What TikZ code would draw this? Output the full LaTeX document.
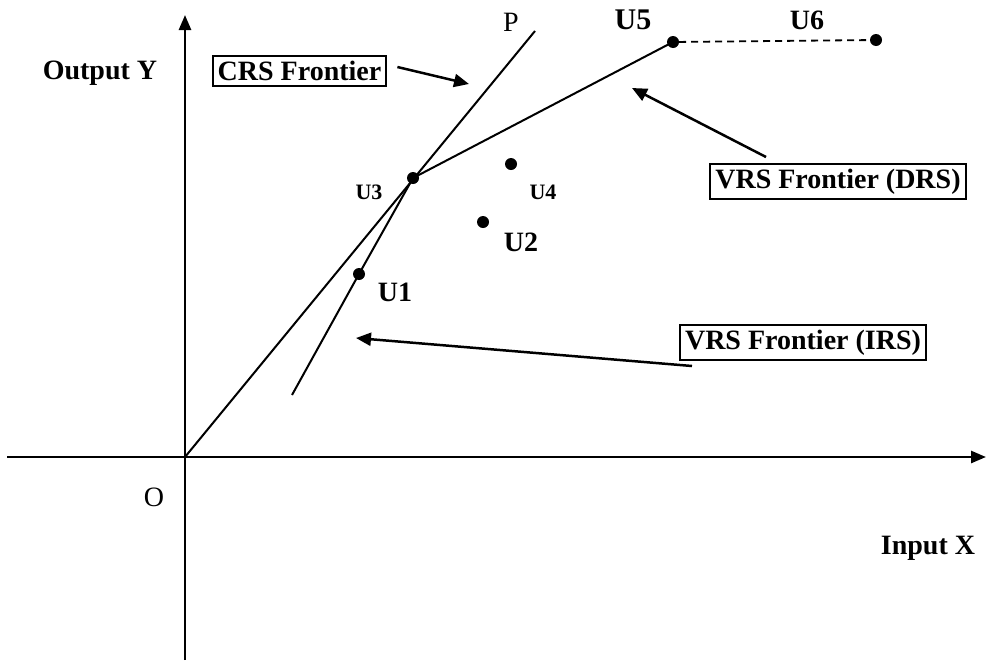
\documentclass[tikz,border=0pt]{standalone}
\usepackage{fontspec}
\setmainfont{Liberation Serif}
\usetikzlibrary{arrows.meta}
\begin{document}
\begin{tikzpicture}[x=1pt,y=-1pt,
  axis/.style={line width=2.6pt,-{Triangle[length=15pt,width=12pt]}},
  frontier/.style={line width=2pt},
  pointer/.style={line width=2.5pt,-{Triangle[length=15pt,width=13pt]}},
  dot/.style={circle,fill=black,inner sep=0pt,minimum size=12pt},
  lbl/.style={font=\fontsize{28}{30}\selectfont\bfseries,inner sep=0pt},
  small/.style={font=\fontsize{22}{24}\selectfont\bfseries,inner sep=0pt},
  plain/.style={font=\fontsize{28}{30}\selectfont,inner sep=0pt},
  boxed/.style={draw,line width=2.2pt,inner xsep=5pt,inner ysep=5pt,
    font=\fontsize{28}{30}\selectfont\bfseries}]
\useasboundingbox (0,0) rectangle (986,662);

% axes
\coordinate (ybot) at (185,660);
\coordinate (ytop) at (185,15);
\coordinate (xl) at (7,457);
\coordinate (xr) at (986,457);
\coordinate (o) at (185,457);
\draw[axis] (ybot) -- (ytop);
\draw[axis] (xl) -- (xr);
\node[plain] (olbl) at (154,497) {O};
\node[lbl] (ylbl) at (100,73) {Output Y};
\node[lbl] (xlbl) at (928,548) {Input X};

% decision making units
\node[dot] (u1) at (359,274) {};
\node[dot] (u2) at (483,222) {};
\node[dot] (u3) at (413,178) {};
\node[dot] (u4) at (511,164) {};
\node[dot] (u5) at (673,42) {};
\node[dot] (u6) at (876,40) {};
\node[lbl] at (395,292) {U1};
\node[lbl] at (521,242) {U2};
\node[small] at (369,192) {U3};
\node[small] at (543,192) {U4};
\node[lbl,font=\fontsize{30}{32}\selectfont\bfseries] at (633,20) {U5};
\node[lbl] at (807,20) {U6};

% CRS ray
\coordinate (p) at (535,31);
\node[plain] (plbl) at (511,22) {P};
\draw[frontier] (o) -- (p);

% VRS frontier
\coordinate (irsend) at (292,395);
\draw[frontier] (irsend) -- (u1.center) -- (u3.center) -- (u5.center);
\draw[line width=1.8pt,dash pattern=on 7pt off 5pt] (u5) -- (u6);

% labels with pointers
\node[boxed] (crs) at (299.5,71) {CRS Frontier};
\coordinate (crstip) at (469,84);
\draw[pointer] (crs.east) ++(10pt,4pt) coordinate (crstail) (crstail) -- (crstip);

\node[boxed] (drs) at (838,181.5) {VRS Frontier (DRS)};
\coordinate (drstail) at (766,157);
\coordinate (drstip) at (632,88);
\draw[pointer] (drstail) -- (drstip);

\node[boxed] (irs) at (803,342.5) {VRS Frontier (IRS)};
\coordinate (irstail) at (692,366);
\coordinate (irstip) at (356,338);
\draw[pointer] (irstail) -- (irstip);
\end{tikzpicture}
\end{document}
